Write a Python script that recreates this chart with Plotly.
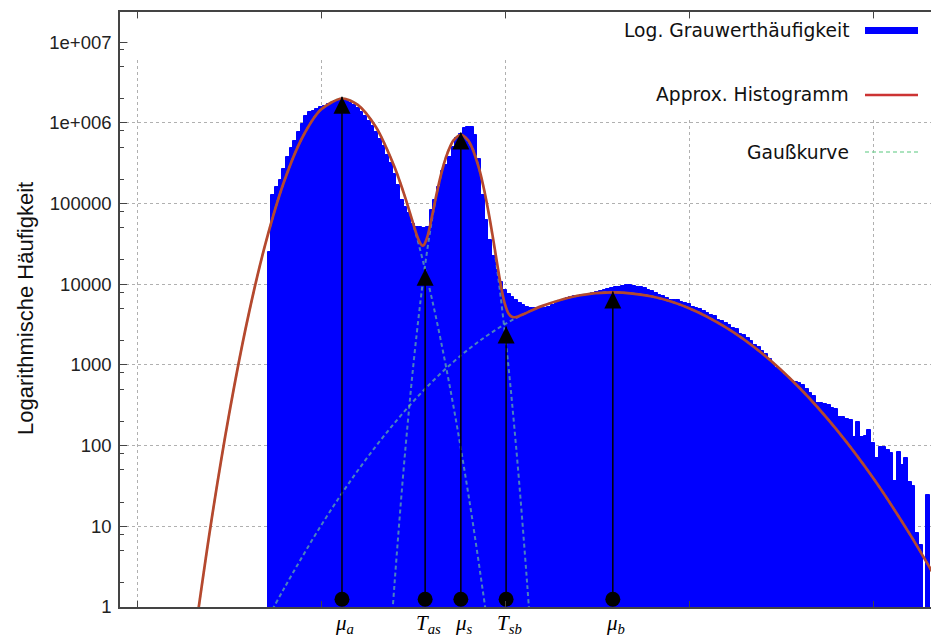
import math
import plotly.graph_objects as go

# ---------------- data ----------------
# histogram: grey-value bins (bin centre) and counts
bin_centers = list(range(36, 216))
hist_counts = [
    25100, 126000, 158000, 195000, 269000, 380000, 490000, 603000, 759000, 955000,      # 36-45
    1230000, 1350000, 1410000, 1480000, 1580000, 1620000, 1700000, 1780000, 1860000, 1910000,  # 46-55
    1910000, 1860000, 1780000, 1660000, 1510000, 1380000, 1230000, 1050000, 912000, 776000,    # 56-65
    631000, 513000, 398000, 316000, 234000, 170000, 112000, 91200, 75900, 56200,          # 66-75
    51300, 51300, 50100, 51300, 83200, 110000, 158000, 251000, 302000, 380000,            # 76-85
    501000, 646000, 724000, 851000, 891000, 891000, 708000, 355000, 126000, 63100,        # 86-95
    35500, 22400, 15100, 10500, 8510, 7590, 6920, 6310, 5890, 5500,                       # 96-105
    5250, 5130, 5010, 5010, 5130, 5010, 5250, 5500, 5890, 6170,                           # 106-115
    6460, 6760, 6920, 7080, 7240, 7410, 7410, 7590, 7760, 7940,                           # 116-125
    8320, 8510, 8710, 8910, 9120, 9330, 9550, 9770, 9770, 9550,                           # 126-135
    9330, 9120, 8910, 8510, 8130, 7760, 7410, 7240, 6760, 6460,                           # 136-145
    6310, 6310, 6030, 5890, 5750, 5250, 5130, 4900, 4680, 4370,                           # 146-155
    4170, 3980, 3630, 3550, 3310, 3090, 2880, 2750, 2400, 2340,                           # 156-165
    2140, 2000, 1740, 1660, 1480, 1380, 1170, 1020, 912, 832,                             # 166-175
    759, 692, 631, 617, 603, 562, 501, 447, 417, 339,                                     # 176-185
    339, 331, 316, 295, 282, 224, 224, 214, 209, 129,                                     # 186-195
    195, 129, 132, 155, 107, 71, 96, 96, 89, 81,                                          # 196-205
    36, 83, 58, 71, 35, 32, 8.3, 5.9, 0, 24.5,                                            # 206-215
]

# approximated histogram (sum of the three Gauss curves)
approx_x = [16, 20, 25, 30, 35, 40, 45, 50, 55.7, 60, 65, 70, 71, 72, 73, 74, 75, 76, 77, 77.6,
            78, 79, 80, 81, 82, 83, 84, 85, 86, 88, 90, 91, 93, 94, 95, 96, 97, 98, 99, 100,
            101, 102, 103, 105, 110, 120, 129.3, 140, 150, 160, 170, 180, 190, 200, 210, 216]
approx_y = [0.56, 10.1, 241, 3590, 33000, 188800, 667000, 1460000, 2000000, 1670000, 873000, 282000,
            212300, 157000, 113900, 81200, 57400, 41000, 31900, 30000,
            30800, 40100, 63600, 106700, 173700, 266000, 377600, 496600, 604000, 708000, 605500,
            498300, 266000, 173000, 104600, 59000, 31600, 16500, 8980, 5610,
            4300, 3920, 3917, 4250, 5350, 7250, 7940, 7030, 5050, 2920, 1375, 522, 160, 39.9, 8.0, 2.77]

# single Gauss curves
gauss_a_x = [16, 20, 25, 30, 35, 40, 45, 50, 55.7, 60, 65, 70, 75, 80, 85, 90, 94.6, 97]
gauss_a_y = [0.56, 10.1, 241, 3590, 33000, 188800, 667000, 1460000, 2000000, 1670000, 873000,
             282000, 56500, 7010, 540, 25.7, 1.0, 0.16]
gauss_s_x = [68, 70, 73, 76, 79, 82, 85, 88, 91, 94, 97, 100, 103, 106, 108]
gauss_s_y = [0.099, 2.0, 98.4, 2410, 29000, 171000, 496600, 708000, 496600, 171000, 29000,
             2410, 98.4, 2.0, 0.099]
gauss_b_x = [35, 40, 50, 60, 70, 80, 90, 100, 110, 120, 129.3, 140, 150, 160, 170, 180, 190,
             200, 210, 216, 222]
gauss_b_y = [0.65, 1.71, 10.2, 49.1, 191, 606, 1549, 3200, 5350, 7250, 7940, 7030, 5050, 2920,
             1375, 522, 160, 39.9, 8.0, 2.77, 0.89]

# characteristic positions (means and thresholds) with the arrow-tip heights
marker_labels = ["<i>μ<sub>a</sub></i>", "<i>T<sub>as</sub></i>", "<i>μ<sub>s</sub></i>",
                 "<i>T<sub>sb</sub></i>", "<i>μ<sub>b</sub></i>"]
marker_x = [55.7, 78.3, 88.0, 100.3, 129.3]
marker_tip = [2.1e6, 15500, 760000, 3000, 8100]
marker_base = 1.25

# axes
y_tickvals = [1, 10, 100, 1000, 10000, 100000, 1e6, 1e7]
y_ticktext = ["1", "10", "100", "1000", "10000", "100000", "1e+006", "1e+007"]
y_minor_vals = [m * 10 ** e for e in range(0, 7) for m in (2, 5, 8)]
x_tickvals = [0, 50, 100, 150, 200]

legend_names = ["Log. Grauwerthäufigkeit", "Approx. Histogramm", "Gaußkurve"]

# ---------------- styling / layout helpers ----------------
W, H = 931, 639
L, R, T, B = 120, 931, 12, 607
PX_PER_UNIT = 3.68
X0 = 137  # pixel of grey value 0


def pxx(px):
    return (px - L) / (R - L)


def pxy(py):
    return (B - py) / (B - T)


x_range = [(L - X0) / PX_PER_UNIT, (R - X0) / PX_PER_UNIT]
decade_px = 80.7
y_range = [0, (B - T) / decade_px]

BLUE = "#0000ff"
BROWN = "#b5482e"
GAUSS = "rgba(120,210,150,0.62)"

fig = go.Figure()

fig.add_trace(go.Bar(
    x=bin_centers, y=hist_counts, width=1.0,
    marker=dict(color=BLUE, line=dict(width=1.0, color=BLUE)),
    name=legend_names[0], showlegend=False,
))

for gx, gy in ((gauss_a_x, gauss_a_y), (gauss_s_x, gauss_s_y), (gauss_b_x, gauss_b_y)):
    fig.add_trace(go.Scatter(
        x=gx, y=gy, mode="lines", line=dict(color=GAUSS, width=2, dash="4px,3px", shape="spline"),
        showlegend=False, hoverinfo="skip",
    ))

fig.add_trace(go.Scatter(
    x=approx_x, y=approx_y, mode="lines",
    line=dict(color=BROWN, width=2.7, shape="spline", smoothing=0.8),
    showlegend=False,
))

# arrows: shafts from the base circle to the tip, filled heads at the tip
shaft_x, shaft_y = [], []
for lx, tip in zip(marker_x, marker_tip):
    shaft_x += [lx, lx, None]
    shaft_y += [marker_base, tip, None]
fig.add_trace(go.Scatter(
    x=shaft_x, y=shaft_y, mode="lines", line=dict(color="black", width=1.5),
    showlegend=False, hoverinfo="skip",
))
fig.add_trace(go.Scatter(
    x=marker_x, y=marker_tip, mode="markers",
    marker=dict(symbol="arrow-up", color="black", size=17, line=dict(width=0)),
    showlegend=False, hoverinfo="skip",
))
fig.add_trace(go.Scatter(
    x=marker_x, y=[marker_base] * len(marker_x), mode="markers",
    marker=dict(color="black", size=15, line=dict(width=0)),
    cliponaxis=False, showlegend=False,
))

annotations = []
for lx, lab in zip(marker_x, marker_labels):
    annotations.append(dict(
        x=lx, y=pxy(624), xref="x", yref="paper", text=lab, showarrow=False,
        xanchor="center", yanchor="middle", xshift=3,
        font=dict(family="Liberation Serif, Times New Roman, serif", size=21, color="black"),
    ))

# y axis title
annotations.append(dict(
    x=pxx(25), y=pxy(309), xref="paper", yref="paper", text="Logarithmische Häufigkeit",
    textangle=-90, showarrow=False, xanchor="center", yanchor="middle",
    font=dict(family="Liberation Sans, Arial, sans-serif", size=22, color="#111"),
))

# hand-made key (text right-aligned, sample right of it)
key_rows = [30, 95, 152]
for name, ky in zip(legend_names, key_rows):
    annotations.append(dict(
        x=pxx(851), y=pxy(ky), xref="paper", yref="paper", text=name, showarrow=False,
        xanchor="right", yanchor="middle",
        font=dict(family="DejaVu Sans, sans-serif", size=18.7, color="#111"),
    ))

shapes = [
    # white masks hiding the grid in the head area (as in the reference)
    dict(type="rect", xref="paper", yref="paper", x0=pxx(128), x1=1, y0=pxy(58), y1=pxy(19),
         fillcolor="white", line=dict(width=0), layer="above"),
    dict(type="rect", xref="paper", yref="paper", x0=pxx(600), x1=1, y0=pxy(117), y1=pxy(19),
         fillcolor="white", line=dict(width=0), layer="above"),
    # key samples
    dict(type="rect", xref="paper", yref="paper", x0=pxx(865), x1=pxx(918), y0=pxy(34), y1=pxy(27),
         fillcolor=BLUE, line=dict(width=0), layer="above"),
    dict(type="line", xref="paper", yref="paper", x0=pxx(865), x1=pxx(918), y0=pxy(95), y1=pxy(95),
         line=dict(color="#cc3333", width=2.5), layer="above"),
    dict(type="line", xref="paper", yref="paper", x0=pxx(865), x1=pxx(918), y0=pxy(152), y1=pxy(152),
         line=dict(color=GAUSS, width=2, dash="4px,3px"), layer="above"),
]

fig.update_layout(
    width=W, height=H, autosize=False,
    margin=dict(l=L, r=W - R, t=T, b=H - B, pad=0),
    paper_bgcolor="white", plot_bgcolor="white",
    bargap=0, showlegend=False,
    annotations=annotations, shapes=shapes,
    xaxis=dict(
        range=x_range, tickvals=x_tickvals, showticklabels=False,
        ticks="inside", ticklen=6, tickcolor="#444", tickwidth=1,
        showline=True, linecolor="#444", linewidth=1.5, mirror="allticks",
        showgrid=True, gridcolor="#b0b0b0", griddash="dot", gridwidth=1, zeroline=False,
    ),
    yaxis=dict(
        type="log", range=y_range, tickvals=y_tickvals, ticktext=y_ticktext,
        ticks="inside", ticklen=7, tickcolor="#444", tickwidth=1,
        tickfont=dict(family="Liberation Sans, Arial, sans-serif", size=18.5, color="#222"),
        ticklabelstandoff=3,
        showline=True, linecolor="#444", linewidth=1.5, mirror=False,
        showgrid=True, gridcolor="#b0b0b0", griddash="dot", gridwidth=1, zeroline=False,
        minor=dict(tickvals=y_minor_vals, ticks="inside", ticklen=4, tickcolor="#444", showgrid=False),
    ),
)

fig.write_html("out.html")
